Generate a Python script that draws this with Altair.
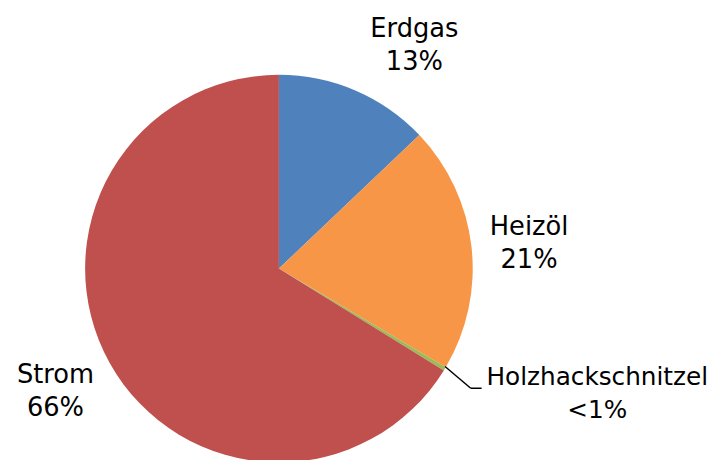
import altair as alt
import pandas as pd

categories = ["Erdgas", "Heizöl", "Holzhackschnitzel", "Strom"]
values = [12.9, 20.6, 0.3, 66.2]
pct_labels = ["13%", "21%", "<1%", "66%"]
colors = ["#4F81BD", "#F79646", "#9BBB59", "#C0504D"]

df = pd.DataFrame({
    "cat": categories,
    "val": values,
    "order": list(range(len(categories))),
    "label": [f"{c}\n{p}" for c, p in zip(categories, pct_labels)],
})

CX, CY, R = 274, 261, 196

base = alt.Chart(df)

pie = base.mark_arc(radius=R).encode(
    theta=alt.Theta("val:Q", stack=True),
    order=alt.Order("order:Q"),
    color=alt.Color("cat:N", scale=alt.Scale(domain=categories, range=colors), legend=None),
    x=alt.value(CX), y=alt.value(CY),
)

font = "DejaVu Sans"

def lab(cat, x, y, fs=26):
    return base.transform_filter(alt.datum.cat == cat).mark_text(
        font=font, fontSize=fs, color="#000000", align="center",
        baseline="alphabetic", lineBreak="\n", lineHeight=33,
    ).encode(text="label:N", x=alt.value(x), y=alt.value(y))

labels = [
    lab("Erdgas", 411, 27),
    lab("Heizöl", 527, 227),
    lab("Holzhackschnitzel", 596, 379, fs=25),
    lab("Strom", 48, 377),
]

leader1 = base.transform_filter(alt.datum.cat == "Holzhackschnitzel").mark_rule(
    color="#000000", strokeWidth=1.5
).encode(x=alt.value(442), y=alt.value(360), x2=alt.value(468), y2=alt.value(382))
leader2 = base.transform_filter(alt.datum.cat == "Holzhackschnitzel").mark_rule(
    color="#000000", strokeWidth=1.5
).encode(x=alt.value(468), y=alt.value(382), x2=alt.value(479), y2=alt.value(382))

chart = alt.layer(pie, leader1, leader2, *labels).properties(
    width=712, height=452, autosize=alt.AutoSizeParams(type="none"), padding=0
).configure_view(stroke=None)

chart.save("out.html", embed_options={"renderer": "svg", "actions": False})
